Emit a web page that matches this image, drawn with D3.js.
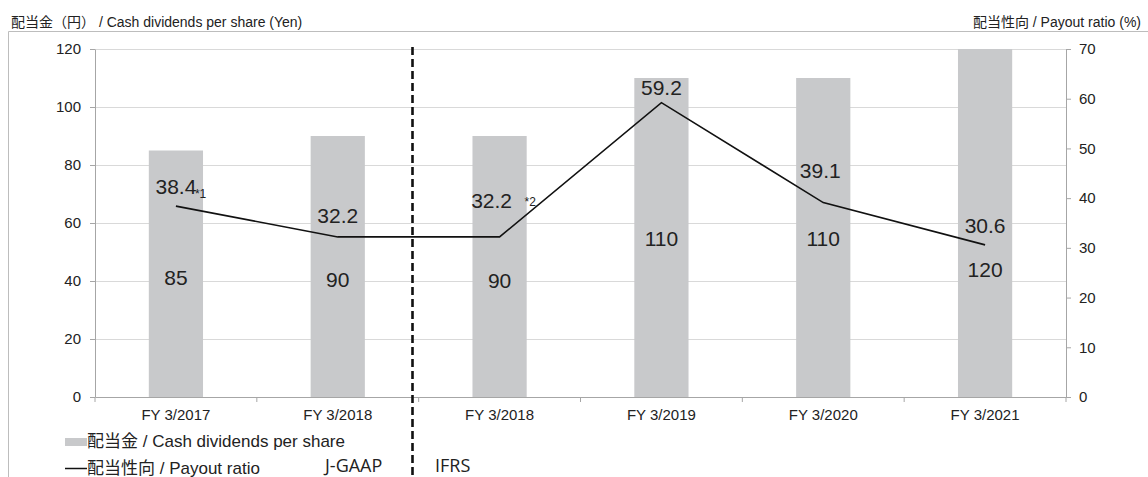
<!DOCTYPE html>
<html>
<head>
<meta charset="utf-8">
<script src="https://cdn.jsdelivr.net/npm/d3@7"></script>
<style>
  body { margin: 0; background: #fff; }
  text { font-family: "Liberation Sans", Arial, "Noto Sans CJK JP", sans-serif; fill: #222; }
</style>
</head>
<body>
<svg id="chart"></svg>
<script>
// data
const categories = ["FY 3/2017", "FY 3/2018", "FY 3/2018", "FY 3/2019", "FY 3/2020", "FY 3/2021"];
const dividends = [85, 90, 90, 110, 110, 120];
const payout = [38.4, 32.2, 32.2, 59.2, 39.1, 30.6];
const notes = ["*1", "", "*2", "", "", ""];
const leftTicks = [0, 20, 40, 60, 80, 100, 120];
const rightTicks = [0, 10, 20, 30, 40, 50, 60, 70];

// label layout (Excel hand-placed positions)
const ratioLabelDy = [-12, -14, -29, -8, -25, -12];
const ratioLabelDx = [0, 0, -8, 0, -3, 0];
const noteDx = [19, 0, 33, 0, 0, 0];
const noteDy = [4, 0, -2, 0, 0, 0];
const valueLabelY = [285, 287, 288, 246, 246, 277];

const width = 1148, height = 477;
const margin = { left: 95, right: 82, top: 49, bottom: 80 };
const plotRight = width - margin.right;
const plotBottom = height - margin.bottom;

const svg = d3.select('#chart').attr('width', width).attr('height', height);

// outer frame
svg.append('path')
    .attr('d', 'M8.5,' + height + ' V31.5 H' + width)
    .attr('fill', 'none')
    .attr('stroke', '#bdbdbd')
    .attr('stroke-width', 1);

var x = d3.scaleBand()
    .domain(d3.range(categories.length))
    .range([margin.left, plotRight])
    .padding(0);

var y = d3.scaleLinear().domain([0, 120]).range([plotBottom, margin.top]);
var y2 = d3.scaleLinear().domain([0, 70]).range([plotBottom, margin.top]);

// gridlines
svg.append('g')
    .selectAll('line')
    .data(leftTicks.filter(d => d > 0))
    .enter().append('line')
    .attr('x1', margin.left).attr('x2', plotRight)
    .attr('y1', d => Math.round(y(d)) + 0.5).attr('y2', d => Math.round(y(d)) + 0.5)
    .attr('stroke', '#d9d9d9');

// bars
var barW = x.bandwidth() * 0.335;
svg.append('g')
    .selectAll('rect')
    .data(dividends)
    .enter().append('rect')
    .attr('x', (d, i) => x(i) + x.bandwidth() / 2 - barW / 2)
    .attr('y', d => y(d))
    .attr('width', barW)
    .attr('height', d => y(0) - y(d))
    .attr('fill', '#c8c9cb');

// axes
var axisL = svg.append('g')
    .attr('transform', 'translate(' + margin.left + ',0)')
    .call(d3.axisLeft(y).tickValues(leftTicks).tickSize(5).tickSizeOuter(0).tickPadding(9));
var axisR = svg.append('g')
    .attr('transform', 'translate(' + plotRight + ',0)')
    .call(d3.axisRight(y2).tickValues(rightTicks).tickSize(5).tickSizeOuter(0).tickPadding(8));
var axisB = svg.append('g')
    .attr('transform', 'translate(0,' + plotBottom + ')')
    .call(d3.axisBottom(x).tickSize(0).tickPadding(12).tickFormat(i => categories[i]));

// category boundary ticks
axisB.append('g')
    .selectAll('line')
    .data(d3.range(categories.length + 1))
    .enter().append('line')
    .attr('x1', i => i < categories.length ? x(i) : plotRight)
    .attr('x2', i => i < categories.length ? x(i) : plotRight)
    .attr('y1', 0).attr('y2', 5)
    .attr('stroke', '#a6a6a6');

[axisL, axisR, axisB].forEach(a => {
    a.select('.domain').attr('stroke', '#a6a6a6');
    a.selectAll('.tick line').attr('stroke', '#a6a6a6');
    a.selectAll('.tick text')
        .style('font-family', '"Liberation Sans", Arial, sans-serif')
        .attr('font-size', 15).attr('fill', '#222');
});

// payout ratio line
var line = d3.line()
    .x((d, i) => x(i) + x.bandwidth() / 2)
    .y(d => y2(d));

svg.append('path')
    .datum(payout)
    .attr('d', line)
    .attr('fill', 'none')
    .attr('stroke', '#111')
    .attr('stroke-width', 1.6);

// dashed separator J-GAAP / IFRS
svg.append('line')
    .attr('x1', 412.5).attr('x2', 412.5)
    .attr('y1', 47).attr('y2', height)
    .attr('stroke', '#111')
    .attr('stroke-width', 2.6)
    .attr('stroke-dasharray', '8,4');

// value labels
svg.append('g')
    .selectAll('text')
    .data(dividends)
    .enter().append('text')
    .attr('x', (d, i) => x(i) + x.bandwidth() / 2)
    .attr('y', (d, i) => valueLabelY[i])
    .attr('text-anchor', 'middle')
    .attr('font-size', 21)
    .text(d => d);

svg.append('g')
    .selectAll('text')
    .data(payout)
    .enter().append('text')
    .attr('x', (d, i) => x(i) + x.bandwidth() / 2 + ratioLabelDx[i])
    .attr('y', (d, i) => y2(d) + ratioLabelDy[i])
    .attr('text-anchor', 'middle')
    .attr('font-size', 21)
    .text(d => d.toFixed(1));

// footnote marks
svg.append('g')
    .selectAll('text')
    .data(notes)
    .enter().append('text')
    .attr('x', (d, i) => x(i) + x.bandwidth() / 2 + ratioLabelDx[i] + noteDx[i])
    .attr('y', (d, i) => y2(payout[i]) + ratioLabelDy[i] + noteDy[i])
    .attr('font-size', 12)
    .text(d => d);

// axis titles
svg.append('text')
    .attr('x', 11).attr('y', 27)
    .attr('font-size', 14)
    .text('配当金（円） / Cash dividends per share (Yen)');

svg.append('text')
    .attr('x', 1141).attr('y', 27)
    .attr('text-anchor', 'end')
    .attr('font-size', 14)
    .text('配当性向 / Payout ratio (%)');

// legend
svg.append('rect')
    .attr('x', 65).attr('y', 438).attr('width', 22).attr('height', 8)
    .attr('fill', '#c8c9cb');
svg.append('text')
    .attr('x', 87).attr('y', 447)
    .attr('font-size', 17)
    .text('配当金 / Cash dividends per share');

svg.append('line')
    .attr('x1', 65).attr('x2', 87)
    .attr('y1', 468.5).attr('y2', 468.5)
    .attr('stroke', '#111').attr('stroke-width', 1.5);
svg.append('text')
    .attr('x', 87).attr('y', 474)
    .attr('font-size', 17)
    .text('配当性向 / Payout ratio');

svg.append('text')
    .attr('x', 325).attr('y', 472)
    .style('font-family', '"Open Sans", sans-serif')
    .attr('font-size', 18)
    .text('J-GAAP');
svg.append('text')
    .attr('x', 435).attr('y', 472)
    .style('font-family', '"Open Sans", sans-serif')
    .attr('font-size', 18)
    .text('IFRS');
</script>
</body>
</html>
